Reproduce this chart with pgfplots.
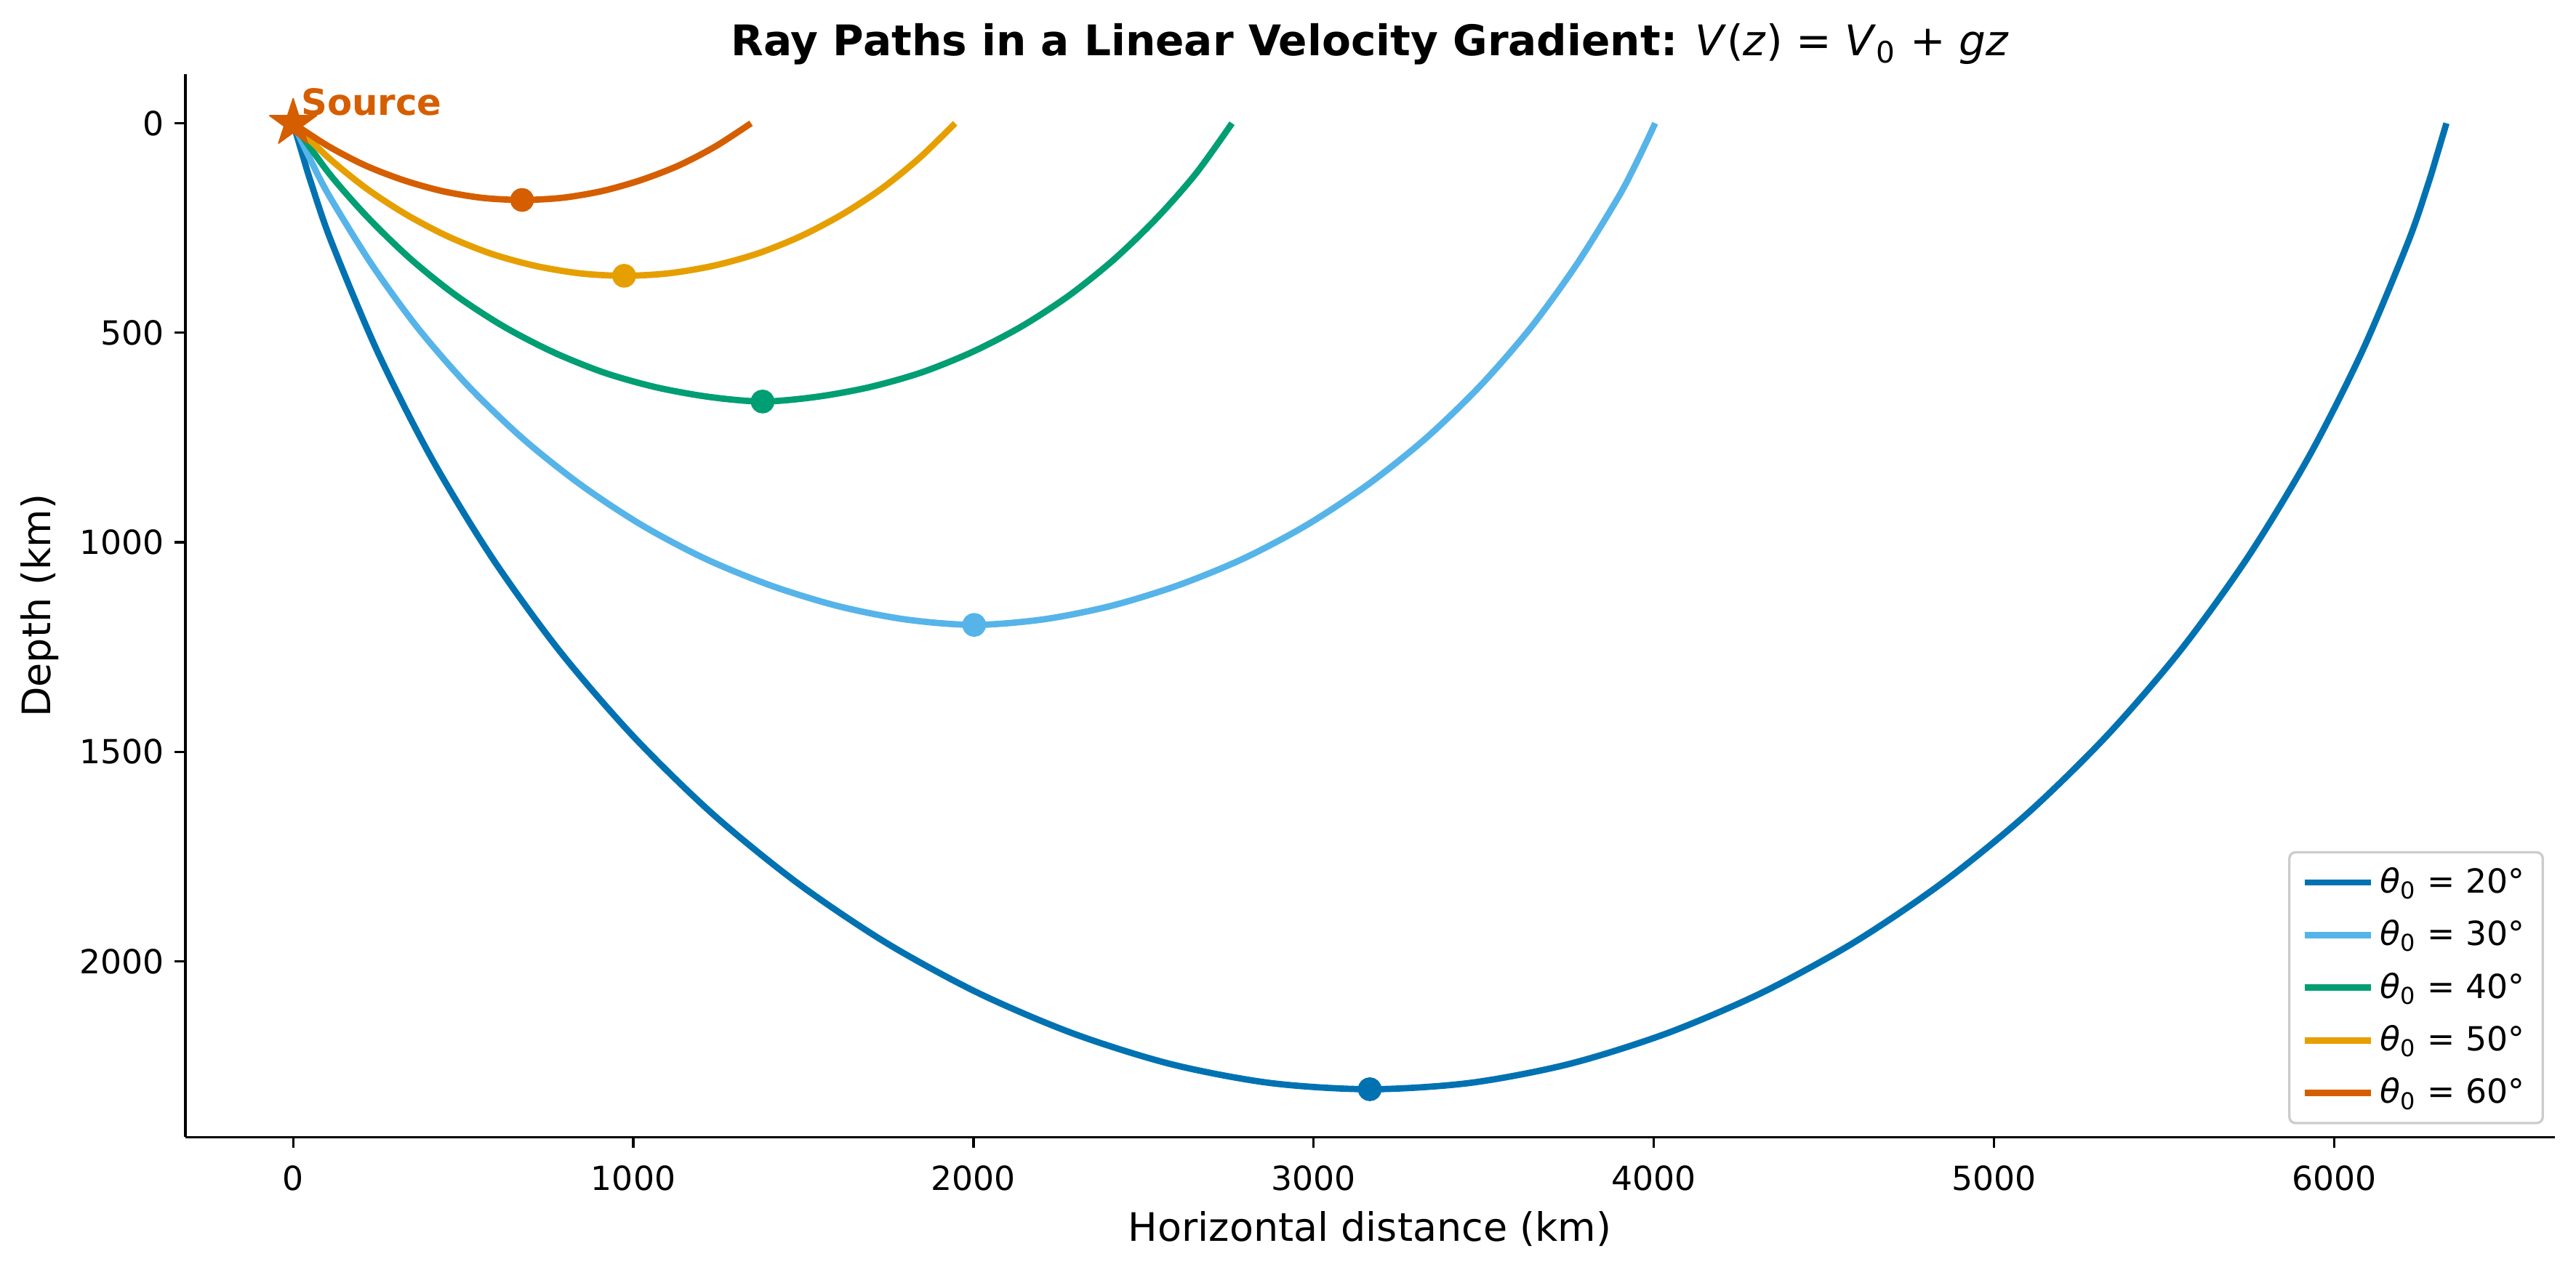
\documentclass[border=0pt]{standalone}
\usepackage{fontspec}
\setmainfont{DejaVu Sans}
\usepackage{pgfplots}
\pgfplotsset{compat=1.18}
\definecolor{cA}{HTML}{0072B2}
\definecolor{cB}{HTML}{56B4E9}
\definecolor{cC}{HTML}{009E73}
\definecolor{cD}{HTML}{E69F00}
\definecolor{cE}{HTML}{D55E00}
\pgfdeclareplotmark{fstar}{%
 \pgfpathmoveto{\pgfpointpolar{90}{\pgfplotmarksize}}%
 \pgfpathlineto{\pgfpointpolar{126}{0.382\pgfplotmarksize}}%
 \pgfpathlineto{\pgfpointpolar{162}{\pgfplotmarksize}}%
 \pgfpathlineto{\pgfpointpolar{198}{0.382\pgfplotmarksize}}%
 \pgfpathlineto{\pgfpointpolar{234}{\pgfplotmarksize}}%
 \pgfpathlineto{\pgfpointpolar{270}{0.382\pgfplotmarksize}}%
 \pgfpathlineto{\pgfpointpolar{306}{\pgfplotmarksize}}%
 \pgfpathlineto{\pgfpointpolar{342}{0.382\pgfplotmarksize}}%
 \pgfpathlineto{\pgfpointpolar{18}{\pgfplotmarksize}}%
 \pgfpathlineto{\pgfpointpolar{54}{0.382\pgfplotmarksize}}%
 \pgfpathclose\pgfusepathqfillstroke}
\begin{document}
\begin{tikzpicture}
\path[use as bounding box] (-61.4pt,-42.9pt) rectangle (792.1pt,376.8pt);
\begin{axis}[
 at={(0pt,0pt)}, anchor=south west,
 scale only axis, width=785pt, height=352.2pt,
 xmin=-317, xmax=6648, ymin=-117, ymax=2419, y dir=reverse,
 axis x line*=bottom, axis y line*=left,
 axis line style={line width=0.8pt,-},
 xtick={0,1000,...,6000}, ytick={0,500,...,2000},
 tick style={line width=0.8pt, black},
 tick align=outside, major tick length=3.5pt,
 tick label style={font=\fontsize{11}{13}\selectfont},
 xticklabel style={yshift=-2.5pt},
 /pgf/number format/assume math mode=true,
 /pgf/number format/set thousands separator={},
 xlabel={Horizontal distance (km)}, ylabel={Depth (km)},
 label style={font=\fontsize{13}{15}\selectfont},
 title={\textbf{Ray Paths in a Linear Velocity Gradient:} \textit{V}(\textit{z}) = \textit{V}\textsubscript{0} + \textit{gz}},
 title style={font=\fontsize{14}{16}\selectfont, yshift=-6.5pt},
 legend style={at={(0.9955,0.012)}, anchor=south east, draw=black!20, line width=0.8pt, rounded corners=2pt, fill=white, font=\fontsize{11}{13}\selectfont, row sep=3.5pt, inner xsep=4pt, inner ysep=3pt},
 legend cell align=left,
 legend image code/.code={\draw[line width=2.1pt] (0pt,0pt) -- (22pt,0pt);},
 clip=false,
 every axis plot/.append style={line width=2.1pt, line join=round},
]
\addplot[cA, smooth, no marks] coordinates {(0,0) (26,71) (53,143) (112,282) (248,545) (406,798) (585,1037) (783,1259) (1000,1463) (1233,1648) (1481,1812) (1742,1955) (2013,2075) (2293,2172) (2580,2245) (2871,2290) (3165,2305) (3459,2290) (3750,2245) (4037,2172) (4317,2075) (4588,1955) (4849,1812) (5097,1648) (5330,1463) (5547,1259) (5745,1037) (5924,798) (6082,545) (6218,282) (6277,143) (6304,71) (6330,0)};
\addlegendentry{\textit{θ}\textsubscript{0} = 20°}
\addplot[cA, only marks, mark=*, mark size=2.9pt, forget plot] coordinates {(3165,2305)};
\addplot[cB, smooth, no marks] coordinates {(0,0) (52,89) (108,176) (231,337) (367,489) (516,628) (676,753) (846,863) (1025,959) (1211,1039) (1404,1103) (1601,1152) (1800,1184) (2002,1197) (2204,1184) (2403,1152) (2600,1103) (2793,1039) (2979,959) (3158,863) (3328,753) (3488,628) (3637,489) (3773,337) (3896,176) (3952,89) (4004,0)};
\addlegendentry{\textit{θ}\textsubscript{0} = 30°}
\addplot[cB, only marks, mark=*, mark size=2.9pt, forget plot] coordinates {(2002,1197)};
\addplot[cC, smooth, no marks] coordinates {(0,0) (106,120) (222,227) (347,325) (479,411) (619,485) (764,546) (914,595) (1067,630) (1223,653) (1380,664) (1537,653) (1693,630) (1846,595) (1996,546) (2141,485) (2281,411) (2413,325) (2538,227) (2654,120) (2760,0)};
\addlegendentry{\textit{θ}\textsubscript{0} = 40°}
\addplot[cC, only marks, mark=*, mark size=2.9pt, forget plot] coordinates {(1380,664)};
\addplot[cD, smooth, no marks] coordinates {(0,0) (105,83) (216,156) (333,218) (455,270) (581,311) (710,340) (841,358) (973,364) (1105,358) (1236,340) (1365,311) (1491,270) (1613,218) (1730,156) (1841,83) (1946,0)};
\addlegendentry{\textit{θ}\textsubscript{0} = 50°}
\addplot[cD, only marks, mark=*, mark size=2.9pt, forget plot] coordinates {(973,364)};
\addplot[cE, smooth, no marks] coordinates {(0,0) (104,55) (213,101) (325,136) (439,162) (556,178) (673,183) (790,178) (907,162) (1021,136) (1133,101) (1242,55) (1346,0)};
\addlegendentry{\textit{θ}\textsubscript{0} = 60°}
\addplot[cE, only marks, mark=*, mark size=2.9pt, forget plot] coordinates {(673,183)};
\addplot[cE, only marks, mark=fstar, mark size=8.2pt, line width=0.4pt, forget plot] coordinates {(0,0)};
\node[anchor=west, inner sep=0pt, text=cE, font=\bfseries\fontsize{12}{14}\selectfont] at (axis cs:22,-50) {Source};
\end{axis}
\end{tikzpicture}
\end{document}
